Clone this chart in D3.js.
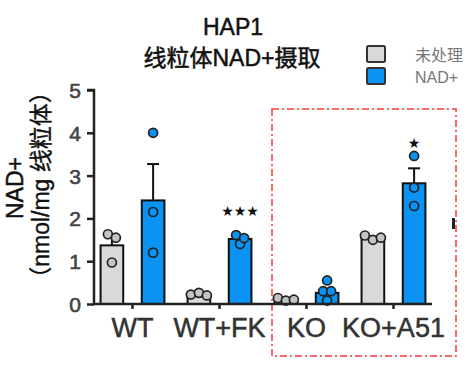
<!DOCTYPE html>
<html>
<head>
<meta charset="utf-8">
<script src="https://cdn.jsdelivr.net/npm/d3@7"></script>
<style>
  body { margin: 0; background: #fff; }
  svg { display: block; font-family: "Liberation Sans", Arial, "Noto Sans CJK SC", sans-serif; }
</style>
</head>
<body>
<div id="chart"></div>
<script>
const groups = ["WT", "WT+FK", "KO", "KO+A51"];
const ctrlMean = [1.37, 0.23, 0.11, 1.55];
const ctrlSem = [0.2, 0.02, 0.03, 0.03];
const ctrlPts = [[0.97, 1.63, 1.55], [0.22, 0.26, 0.2], [0.14, 0.08, 0.1], [1.6, 1.5, 1.55]];
const nadMean = [2.42, 1.52, 0.26, 2.82];
const nadSem = [0.85, 0.05, 0.1, 0.35];
const nadPts = [[4.0, 2.15, 1.2], [1.61, 1.4, 1.54], [0.55, 0.3, 0.3, 0.08], [3.46, 2.72, 2.29]];
const stars = ["", "★★★", "", "★"];
const starY = [0, 2.2, 0, 3.78];
const yTicks = [0, 1, 2, 3, 4, 5];
const series = ["未处理", "NAD+"];
const colors = ["#d9d9d9", "#0a93f2"];

const width = 474, height = 377;
const svg = d3.select("#chart").append("svg").attr("width", width).attr("height", height);

const y = d3.scaleLinear().domain([0, 5]).range([304, 90]);
const x = d3.scaleBand().domain(groups).range([89, 437]);
const sub = d3.scaleBand().domain(series).range([-34, 34]).paddingInner(0.45).paddingOuter(0.05);
const bw = sub.bandwidth();

// highlight box
svg.append("rect")
  .attr("x", 272).attr("y", 109).attr("width", 184).attr("height", 247)
  .attr("fill", "none").attr("stroke", "#f53b3b").attr("stroke-width", 1.5)
  .attr("stroke-dasharray", "7,3,2,3");
svg.append("rect").attr("x", 452).attr("y", 218).attr("width", 3).attr("height", 11).attr("fill", "#222");

// title
svg.append("text").attr("x", 233).attr("y", 35).attr("text-anchor", "middle")
  .attr("font-size", 23).attr("fill", "#111").attr("stroke", "#111").attr("stroke-width", 0.5).text("HAP1");
svg.append("text").attr("x", 232).attr("y", 66).attr("text-anchor", "middle")
  .attr("font-size", 23).attr("fill", "#111").attr("stroke", "#111").attr("stroke-width", 0.5).text("线粒体NAD+摄取");

// legend
series.forEach((s, i) => {
  svg.append("rect").attr("x", 367).attr("y", 46 + i * 22).attr("width", 18).attr("height", 16)
    .attr("fill", colors[i]).attr("stroke", "#333").attr("stroke-width", 2).attr("rx", 1.5);
  svg.append("text").attr("x", 415).attr("y", 61 + i * 22).attr("font-size", 16)
    .attr("fill", "#777").text(s);
});

// bars + points
const sets = [
  { key: series[0], mean: ctrlMean, sem: ctrlSem, pts: ctrlPts, color: colors[0] },
  { key: series[1], mean: nadMean, sem: nadSem, pts: nadPts, color: colors[1] },
];

function spread(vals) {
  // push overlapping points sideways
  return vals.map((v, i) => {
    const close = vals.map((w, j) => j).filter(j => Math.abs(vals[j] - v) < 0.12);
    const k = close.indexOf(i);
    return (k - (close.length - 1) / 2) * 8;
  });
}

sets.forEach(s => {
  const g = svg.append("g");
  groups.forEach((grp, i) => {
    const cx = x(grp) + x.bandwidth() / 2 + sub(s.key) + bw / 2;
    // error bar (upper only)
    g.append("line").attr("x1", cx).attr("x2", cx)
      .attr("y1", y(s.mean[i])).attr("y2", y(s.mean[i] + s.sem[i]))
      .attr("stroke", "#111").attr("stroke-width", 2);
    g.append("line").attr("x1", cx - 6).attr("x2", cx + 6)
      .attr("y1", y(s.mean[i] + s.sem[i])).attr("y2", y(s.mean[i] + s.sem[i]))
      .attr("stroke", "#111").attr("stroke-width", 2);
    g.append("rect")
      .attr("x", cx - bw / 2).attr("y", y(s.mean[i]))
      .attr("width", bw).attr("height", y(0) - y(s.mean[i]))
      .attr("fill", s.color).attr("stroke", "#111").attr("stroke-width", 2);
    const offs = spread(s.pts[i]);
    g.selectAll(null).data(s.pts[i]).enter().append("circle")
      .attr("cx", (d, j) => cx + offs[j])
      .attr("cy", d => y(d))
      .attr("r", 4.5)
      .attr("fill", s.key === series[0] ? "#c4c4c4" : "#0a93f2")
      .attr("stroke", "#222").attr("stroke-width", 1.7);
  });
});

// significance stars
groups.forEach((grp, i) => {
  if (!stars[i]) return;
  const cx = x(grp) + x.bandwidth() / 2 + sub(series[1]) + bw / 2;
  svg.append("text").attr("x", cx).attr("y", y(starY[i]) + 6).attr("text-anchor", "middle")
    .attr("font-family", "DejaVu Sans").attr("font-size", 14).attr("fill", "#111").text(stars[i]);
});

// y axis
const yAxis = svg.append("g").attr("transform", "translate(94,0)")
  .call(d3.axisLeft(y).tickValues(yTicks).tickSize(7).tickPadding(6).tickFormat(d3.format("d")));
yAxis.select(".domain").attr("stroke", "#222").attr("stroke-width", 2.5).attr("d", "M-7,90H0V304");
yAxis.selectAll(".tick line").attr("stroke", "#222").attr("stroke-width", 2.5);
yAxis.selectAll(".tick text").attr("font-size", 21).attr("fill", "#444")
  .attr("stroke", "#444").attr("stroke-width", 0.6)
  .attr("font-family", "Liberation Sans, Arial, sans-serif").attr("dy", "0.36em");

// x axis
const xAxis = svg.append("g").attr("transform", "translate(0,304)")
  .call(d3.axisBottom(x).tickSize(5).tickPadding(9));
xAxis.select(".domain").attr("stroke", "#222").attr("stroke-width", 2.5).attr("d", "M93,0H432");
xAxis.selectAll(".tick line").attr("stroke", "#222").attr("stroke-width", 2.5);
xAxis.selectAll(".tick text").attr("font-size", 27).attr("fill", "#333")
  .attr("stroke", "#333").attr("stroke-width", 0.5)
  .attr("font-family", "Liberation Sans, Arial, sans-serif");

// y label
svg.append("text").attr("transform", "translate(23,188) rotate(-90)").attr("text-anchor", "middle")
  .attr("font-size", 23).attr("fill", "#111").attr("stroke", "#111").attr("stroke-width", 0.5).text("NAD+");
svg.append("text").attr("transform", "translate(49,185) rotate(-90)").attr("text-anchor", "middle")
  .attr("font-size", 23).attr("fill", "#111").attr("stroke", "#111").attr("stroke-width", 0.4).text("（nmol/mg 线粒体）");
</script>
</body>
</html>
